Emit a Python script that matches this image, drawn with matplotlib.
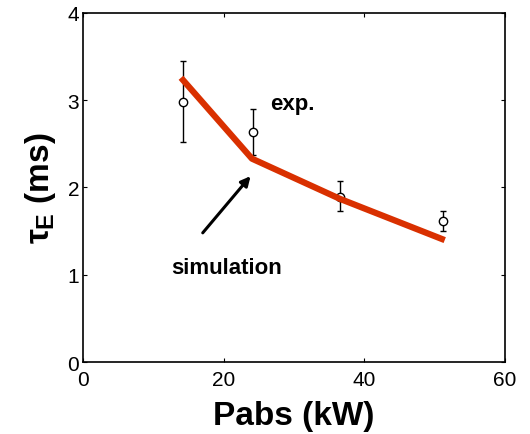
import matplotlib
matplotlib.use("Agg")
import matplotlib.pyplot as plt

plt.rcParams['font.family'] = ['Liberation Sans', 'DejaVu Sans']
plt.rcParams['mathtext.fontset'] = 'custom'
plt.rcParams['mathtext.rm'] = 'Liberation Sans:bold'
plt.rcParams['mathtext.bf'] = 'Liberation Sans:bold'
plt.rcParams['mathtext.it'] = 'Liberation Sans:bold'

# measured confinement time
exp_p = [14.2, 24.2, 36.5, 51.1]
exp_tau = [2.98, 2.63, 1.89, 1.62]
exp_lo = [2.52, 2.37, 1.73, 1.50]
exp_hi = [3.45, 2.90, 2.07, 1.73]

# simulated confinement time
sim_p = [14.2, 24.0, 36.5, 51.0]
sim_tau = [3.23, 2.33, 1.87, 1.41]

fig = plt.figure(figsize=(5.3, 4.35), dpi=100)
ax = fig.add_axes([0.157, 0.1655, 0.796, 0.8025])

yerr = [[t - lo for t, lo in zip(exp_tau, exp_lo)],
        [hi - t for t, hi in zip(exp_tau, exp_hi)]]
ax.errorbar(exp_p, exp_tau, yerr=yerr, fmt='o', mfc='white', mec='black',
            ecolor='black', ms=6, mew=1.0, elinewidth=1.0, capsize=2.2, capthick=1.0,
            zorder=2)
ax.plot(sim_p, sim_tau, color='#d93000', lw=4.5, zorder=3)

ax.annotate('', xy=(23.8, 2.13), xytext=(17.0, 1.48),
            arrowprops=dict(arrowstyle='-|>', color='black', lw=2.2,
                            mutation_scale=14, shrinkA=0, shrinkB=0))
ax.text(20.4, 1.08, 'simulation', fontsize=16, fontweight='bold',
        ha='center', va='center')
ax.text(26.6, 2.96, 'exp.', fontsize=16, fontweight='bold',
        ha='left', va='center')

ax.set_xlim(0, 60)
ax.set_ylim(0, 4)
ax.set_xticks([0, 20, 40, 60])
ax.set_yticks([0, 1, 2, 3, 4])
ax.tick_params(direction='in', length=3, width=0.8, labelsize=15,
               top=True, right=True)
ax.tick_params(axis='x', pad=6)
ax.tick_params(axis='y', pad=3)
for s in ax.spines.values():
    s.set_linewidth(1.2)

ax.set_xlabel('Pabs (kW)', fontsize=24, fontweight='bold', labelpad=8)
ax.set_ylabel(r'$\tau_\mathbf{E}$ (ms)', fontsize=24, fontweight='bold',
              labelpad=7)

fig.savefig('out.png', dpi=100)
